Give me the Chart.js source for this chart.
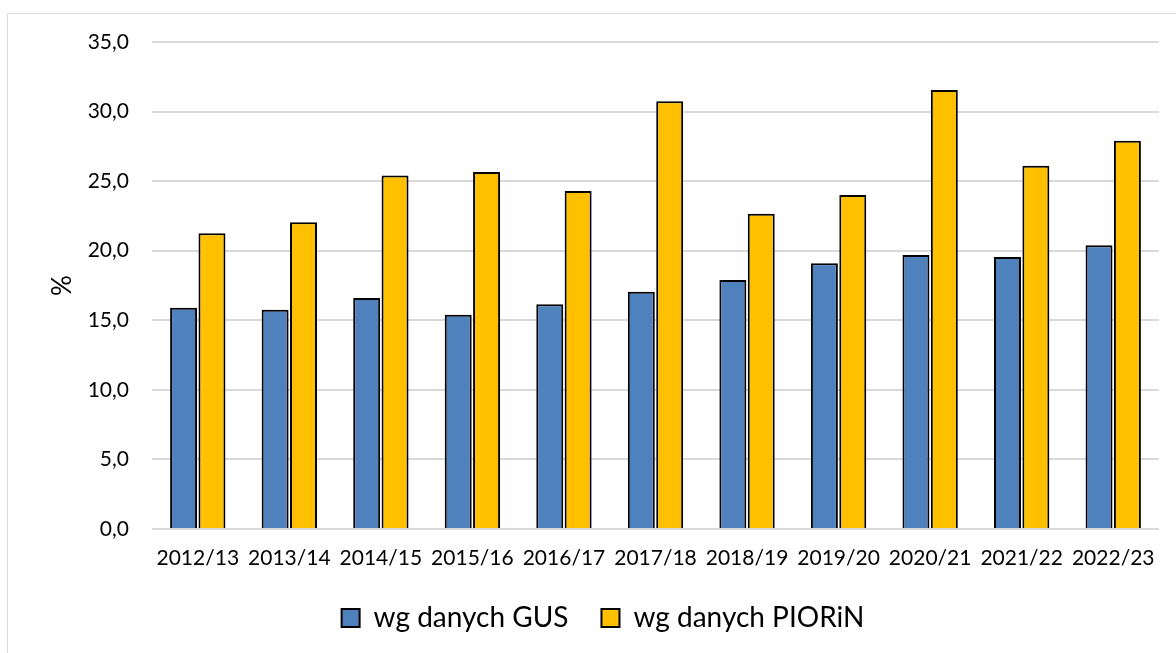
<!DOCTYPE html>
<html>
<head>
<meta charset="utf-8">
<script src="https://cdn.jsdelivr.net/npm/chart.js@4"></script>
<style>
  body { margin: 0; background: #fff; }
  #wrap { position: relative; width: 1176px; height: 653px; overflow: hidden; }
  #frame { position: absolute; left: 7px; top: 13px; width: 1200px; height: 700px; border: 1px solid #d9d9d9; pointer-events: none; }
  canvas { position: absolute; left: 0; top: 0; }
</style>
</head>
<body>
<div id="wrap">
  <div id="frame"></div>
  <canvas id="chart" width="1176" height="653"></canvas>
</div>
<script>
'use strict'

const seasons = ['2012/13', '2013/14', '2014/15', '2015/16', '2016/17', '2017/18', '2018/19', '2019/20', '2020/21', '2021/22', '2022/23']
const gusValues = [15.9, 15.75, 16.6, 15.4, 16.15, 17.05, 17.9, 19.1, 19.7, 19.55, 20.4]
const piorinValues = [21.25, 22.05, 25.4, 25.65, 24.3, 30.75, 22.65, 24.0, 31.55, 26.1, 27.9]
const seriesNames = ['wg danych GUS', 'wg danych PIORiN']

const FONT = 'Lato, "Open Sans", sans-serif'

const fmt = v => Number(v).toFixed(1).replace('.', ',')

const ctx = document.getElementById('chart').getContext('2d')
const chart = new Chart(ctx, {
	type: 'bar',
	data: {
		labels: seasons,
		datasets: [
			{
				label: seriesNames[0],
				data: gusValues,
				backgroundColor: '#4f81bd',
				borderColor: '#000000',
				borderWidth: 2,
				categoryPercentage: 0.62,
				barPercentage: 0.95
			},
			{
				label: seriesNames[1],
				data: piorinValues,
				backgroundColor: '#ffc000',
				borderColor: '#000000',
				borderWidth: 2,
				categoryPercentage: 0.62,
				barPercentage: 0.95
			}
		]
	},
	options: {
		responsive: false,
		animation: false,
		layout: {
			padding: { top: 42, right: 17, bottom: 11, left: 47 }
		},
		scales: {
			x: {
				grid: { display: false, drawTicks: false },
				border: { display: false },
				ticks: {
					color: '#000',
					padding: 17,
					maxRotation: 0,
					autoSkip: false,
					font: { family: FONT, size: 21 }
				},
				afterFit: function(scale) { scale.height = 42 }
			},
			y: {
				min: 0,
				max: 35,
				grid: { color: '#d9d9d9', lineWidth: 2, drawTicks: false },
				border: { display: false },
				ticks: {
					stepSize: 5,
					color: '#000',
					padding: 23,
					callback: v => fmt(v),
					font: { family: FONT, size: 21 }
				},
				title: {
					display: true,
					text: '%',
					color: '#000',
					padding: { top: 0, bottom: 0 },
					font: { family: FONT, size: 26 }
				},
				afterFit: function(scale) { scale.width = 105 }
			}
		},
		plugins: {
			legend: {
				position: 'bottom',
				labels: {
					color: '#000',
					boxWidth: 18,
					boxHeight: 18,
					padding: 33,
					font: { family: FONT, size: 28 }
				}
			},
			tooltip: { enabled: false }
		}
	}
})
</script>
</body>
</html>
